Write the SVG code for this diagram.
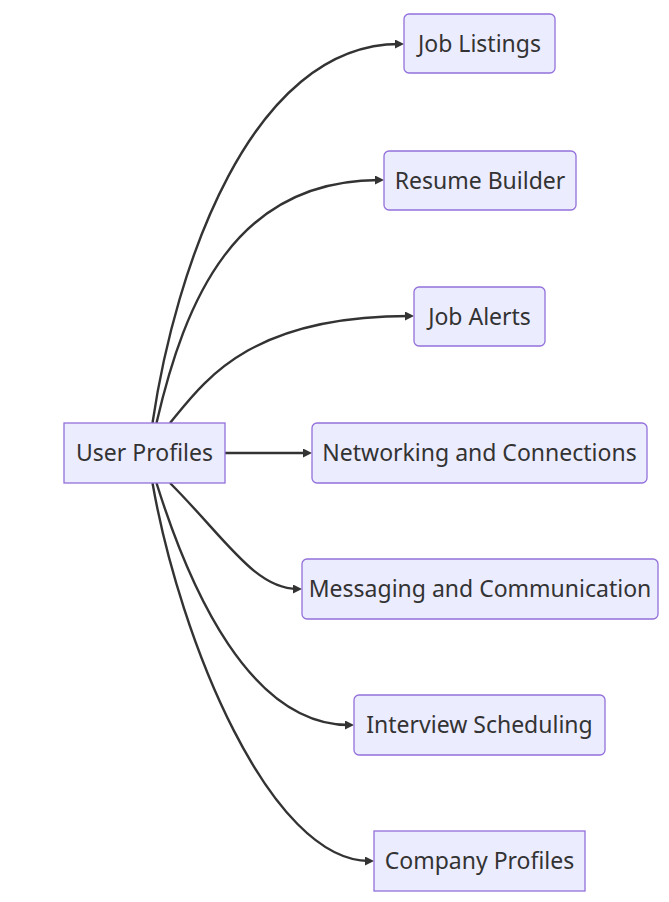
<svg xmlns="http://www.w3.org/2000/svg" width="669" height="902" viewBox="0 0 669 902">
<style>
.node rect{fill:#ECECFF;stroke:#9370DB;stroke-width:1.3px;}
.node text{font-family:"Noto Sans","Open Sans","DejaVu Sans",sans-serif;font-size:23px;fill:#333333;text-anchor:middle;dominant-baseline:central;}
.edge{fill:none;stroke:#333333;stroke-width:2.4px;marker-end:url(#arrow);}
</style>
<defs>
<marker id="arrow" viewBox="0 0 10 10" refX="5" refY="5" markerUnits="userSpaceOnUse" markerWidth="9" markerHeight="9" orient="auto">
<path d="M0,0 L10,5 L0,10 z" fill="#333333"/>
</marker>
</defs>
<rect width="669" height="902" fill="#ffffff"/>
<g id="edges">
<path class="edge" d="M152.5,423 C175,270 250,44 399.5,44"/>
<path class="edge" d="M156.5,423 C185,300 235,180 379.5,180"/>
<path class="edge" d="M170,423 C205,380 250,316 409.5,316"/>
<path class="edge" d="M225,453 L307.5,453"/>
<path class="edge" d="M170,483 C225,538 255,589 297.5,589"/>
<path class="edge" d="M156.5,483 C190,590 250,725 349.5,725"/>
<path class="edge" d="M152.5,483 C180,640 270,861 369.5,861"/>
</g>
<g id="user-profiles" class="node">
<rect x="64" y="423" width="161" height="60"/>
<text x="144.5" y="452">User Profiles</text>
</g>
<g id="job-listings" class="node">
<rect x="404" y="14" width="151" height="59" rx="5"/>
<text x="479.5" y="42.5">Job Listings</text>
</g>
<g id="resume-builder" class="node">
<rect x="384" y="151" width="192" height="59" rx="5"/>
<text x="480" y="179.5">Resume Builder</text>
</g>
<g id="job-alerts" class="node">
<rect x="414" y="287" width="131" height="59" rx="5"/>
<text x="479.5" y="315.5">Job Alerts</text>
</g>
<g id="networking" class="node">
<rect x="312" y="423" width="335" height="60" rx="5"/>
<text x="479.5" y="452">Networking and Connections</text>
</g>
<g id="messaging" class="node">
<rect x="302" y="559" width="356" height="60" rx="5"/>
<text x="480" y="588">Messaging and Communication</text>
</g>
<g id="interview-scheduling" class="node">
<rect x="354" y="695" width="251" height="60" rx="5"/>
<text x="479.5" y="724">Interview Scheduling</text>
</g>
<g id="company-profiles" class="node">
<rect x="374" y="831" width="211" height="60"/>
<text x="479.5" y="860">Company Profiles</text>
</g>
</svg>
